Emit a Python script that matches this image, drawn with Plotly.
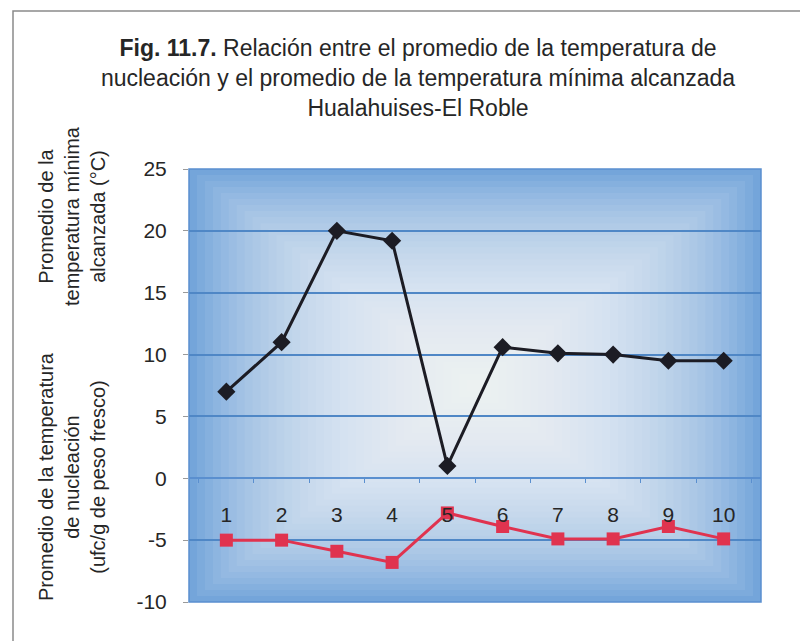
import plotly.graph_objects as go

categories = ["1", "2", "3", "4", "5", "6", "7", "8", "9", "10"]
temp_minima = [7, 11, 20, 19.2, 1, 10.6, 10.1, 10, 9.5, 9.5]
temp_nucleacion = [-5, -5, -5.9, -6.8, -2.8, -3.9, -4.9, -4.9, -3.9, -4.9]
y_ticks = [-10, -5, 0, 5, 10, 15, 20, 25]
y_tick_labels = ["-10", "-5", "0", "5", "10", "15", "20", "25"]

title_text = ("<b>Fig. 11.7.</b> Relación entre el promedio de la temperatura de<br>"
              "nucleación y el promedio de la temperatura mínima alcanzada<br>"
              "Hualahuises-El Roble")
ytitle_top = "Promedio de la<br>temperatura mínima<br>alcanzada (°C)"
ytitle_bottom = "Promedio de la temperatura<br>de nucleación<br>(ufc/g de peso fresco)"

FONT = "Liberation Sans, Arial, sans-serif"
TXT = "#262626"

W, H = 800, 633
L, R, T, B = 181, 47, 161, 39
PW, PH = W - L - R, H - T - B


def px(x):
    return (x - L) / PW


def py(y):
    return (H - B - y) / PH


fig = go.Figure()
fig.add_trace(go.Scatter(
    x=categories, y=temp_minima, mode="lines+markers",
    line=dict(color="#1c1c24", width=3),
    marker=dict(symbol="diamond", size=14, color="#1c1c24"),
    showlegend=False))
fig.add_trace(go.Scatter(
    x=categories, y=temp_nucleacion, mode="lines+markers",
    line=dict(color="#e0334f", width=3),
    marker=dict(symbol="square", size=13, color="#e0334f"),
    showlegend=False))

shapes = []
# rectangular "from centre" gradient of the plot area
N = 36
for i in range(N):
    t = 0.5 * i / N
    shapes.append(dict(type="rect", xref="x domain", yref="y domain",
                       x0=t, x1=1 - t, y0=t, y1=1 - t, layer="below",
                       line=dict(width=0), fillcolor="white", opacity=0.065))
# plot border
shapes.append(dict(type="rect", xref="x domain", yref="y domain",
                   x0=0, x1=1, y0=0, y1=1, layer="below",
                   line=dict(color="#5a8fcf", width=1.5)))
# outer frame of the figure
shapes.append(dict(type="rect", xref="paper", yref="paper",
                   x0=px(5), x1=px(900), y0=py(700), y1=py(3),
                   line=dict(color="#8a8a8a", width=1.5)))

annotations = [
    dict(text=ytitle_top, xref="paper", yref="paper", x=px(64), y=py(208),
         textangle=-90, showarrow=False, xanchor="center", yanchor="middle",
         font=dict(family=FONT, size=20, color=TXT)),
    dict(text=ytitle_bottom, xref="paper", yref="paper", x=px(64), y=py(468),
         textangle=-90, showarrow=False, xanchor="center", yanchor="middle",
         font=dict(family=FONT, size=20, color=TXT)),
]

fig.update_layout(
    width=W, height=H,
    margin=dict(l=L, r=R, t=T, b=B),
    paper_bgcolor="white",
    plot_bgcolor="#6b9fd8",
    title=dict(text=title_text, x=410 / W, xref="container", xanchor="center",
               y=1 - 48 / H, yref="container", yanchor="middle",
               font=dict(family=FONT, size=23, color=TXT)),
    shapes=shapes,
    annotations=annotations,
    xaxis=dict(type="category", anchor="free", position=10 / 35,
               showline=True, linecolor="#5a8fcf", linewidth=1.5,
               ticks="outside", tickson="boundaries", ticklen=4, tickcolor="#5a8fcf",
               ticklabelstandoff=18, showgrid=False, zeroline=False,
               tickfont=dict(family=FONT, size=21, color=TXT)),
    yaxis=dict(range=[-10, 25], tickvals=y_ticks, ticktext=y_tick_labels,
               showgrid=True, gridcolor="#4f87c6", gridwidth=1.5, zeroline=False,
               ticks="outside", ticklen=5, tickcolor="#9a9a9a",
               ticklabelstandoff=12, showline=False,
               tickfont=dict(family=FONT, size=21, color=TXT)),
)

fig.write_html("out.html")
